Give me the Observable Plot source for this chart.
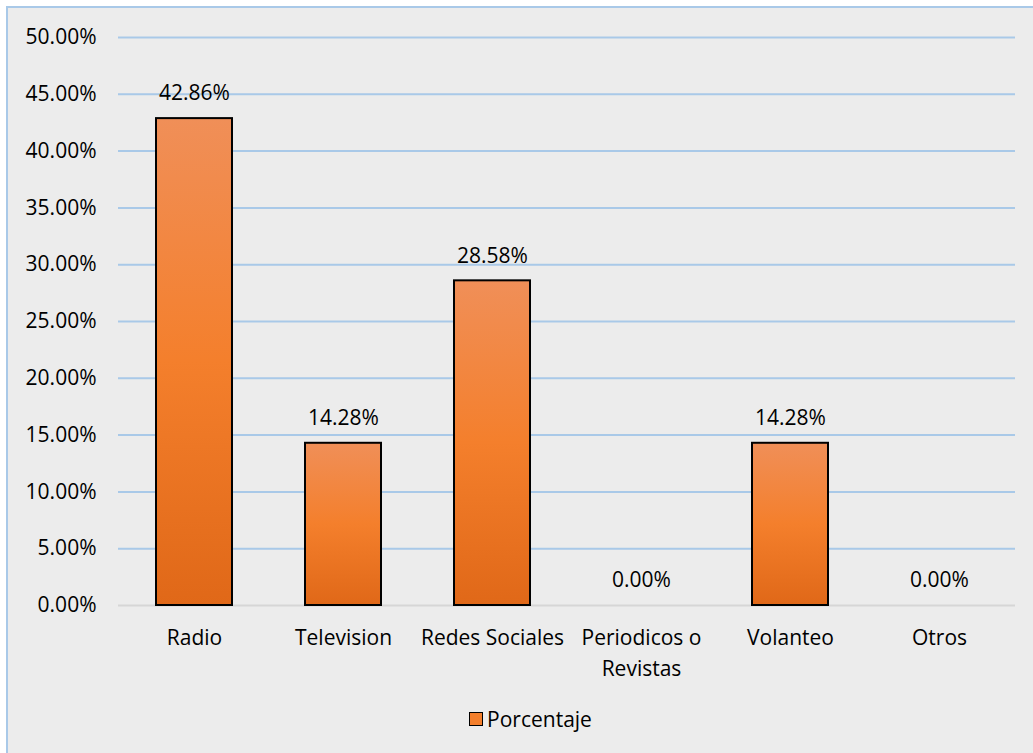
<!DOCTYPE html>
<html><head><meta charset="utf-8">
<script src="https://cdn.jsdelivr.net/npm/d3@7"></script>
<script src="https://cdn.jsdelivr.net/npm/@observablehq/plot@0.6"></script>
<style>
html,body{margin:0;padding:0;background:#fff;width:1033px;height:753px;overflow:hidden;}
#frame{position:absolute;left:6px;top:6px;width:1040px;height:760px;background:#ececec;border-left:2px solid #a9c9e8;border-top:2px solid #a9c9e8;}
#chart{position:absolute;left:0;top:0;}
#legend{position:absolute;left:14px;top:705px;width:1033px;text-align:center;font-family:"Open Sans";font-size:21px;color:#000;}
#legend .sw{display:inline-block;width:12px;height:12px;border:1.5px solid #000;background:#f47f2c;vertical-align:middle;margin-right:4px;position:relative;top:-2px;}
</style></head>
<body>
<div id="frame"></div>
<div id="chart"></div>
<div id="legend"><span class="sw"></span>Porcentaje</div>
<script>
const categories = ["Radio","Television","Redes Sociales","Periodicos o Revistas","Volanteo","Otros"];
const values = [0.4286, 0.1428, 0.2858, 0.0, 0.1428, 0.0];
const yTicks = [0,0.05,0.10,0.15,0.20,0.25,0.30,0.35,0.40,0.45,0.50];
const xLabels = {"Periodicos o Revistas":"Periodicos o\nRevistas"};

const data = categories.map((c,i)=>({cat:c, v:values[i]}));
const pct = d3.format(".2%");

const plot = Plot.plot({
  width: 1033,
  height: 690,
  marginLeft: 118,
  marginRight: 18,
  marginTop: 37,
  marginBottom: 85,
  style: {fontFamily: "Open Sans", fontSize: "21px", background: "transparent", color: "#000", overflow: "visible"},
  x: {domain: categories, paddingInner: 0.49, paddingOuter: 0.245, label: null},
  y: {domain: [0, 0.5], label: null},
  marks: [
    Plot.ruleY(yTicks.filter(t=>t>0), {stroke: "#a9c9e8", strokeWidth: 2}),
    Plot.ruleY([0], {stroke: "#d6d6d6", strokeWidth: 2}),
    Plot.barY(data, {x: "cat", y: "v", fill: "url(#barGrad)", stroke: "#000", strokeWidth: 2, filter: d=>d.v>0, style:"filter:url(#shadow)"}),
    Plot.text(data, {x: "cat", y: "v", text: d=>pct(d.v), dy: -25, fontSize: 21}),
    Plot.axisY({ticks: yTicks, tickFormat: d=>pct(d), tickSize: 0, tickPadding: 22, fontSize: 21, label: null}),
    Plot.axisX({tickSize: 0, tickPadding: 17, fontSize: 21, lineHeight: 1.48, tickFormat: d=>xLabels[d]||d, label: null})
  ]
});
const defs = document.createElementNS("http://www.w3.org/2000/svg","defs");
defs.innerHTML = `<linearGradient id="barGrad" x1="0" y1="0" x2="0" y2="1">
  <stop offset="0" stop-color="#f08f58"/>
  <stop offset="0.5" stop-color="#f47f2c"/>
  <stop offset="1" stop-color="#e06818"/>
</linearGradient>
<filter id="shadow" x="-20%" y="-20%" width="140%" height="140%">
  <feDropShadow dx="1.5" dy="1.5" stdDeviation="1.5" flood-color="#000" flood-opacity="0.35"/>
</filter>`;
plot.insertBefore(defs, plot.firstChild);
document.getElementById("chart").appendChild(plot);
</script>
</body></html>
